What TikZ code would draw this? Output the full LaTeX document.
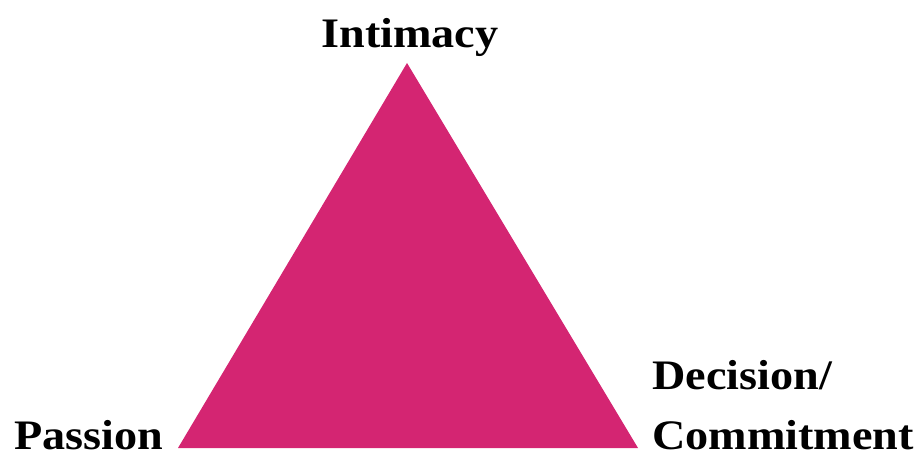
\documentclass[tikz,border=0pt]{standalone}
\usepackage{fontspec}
\setmainfont{Liberation Serif}
\definecolor{tri}{HTML}{D42572}
\newcommand{\widetxt}[1]{\raisebox{0pt}[\height][0pt]{\scalebox{1.1}[1]{#1}}}
\begin{document}
\begin{tikzpicture}[x=1pt,y=-1pt,
  lbl/.style={inner sep=0pt, font=\fontsize{42}{48}\selectfont\bfseries, text=black}]
\useasboundingbox (0,0) rectangle (923,452);
\coordinate (top) at (407,63);
\coordinate (bl) at (178,448);
\coordinate (br) at (638,448);
\fill[tri] (top) -- (bl) -- (br) -- cycle;
\node[lbl, anchor=base] (int) at (410,48) {\widetxt{Intimacy}};
\node[lbl, anchor=base west] (pas) at (14,449) {\widetxt{Passion}};
\node[lbl, anchor=base west] (dec) at (652,389) {\widetxt{Decision/}};
\node[lbl, anchor=base west] (com) at (652,449) {\widetxt{Commitment}};
\end{tikzpicture}
\end{document}
